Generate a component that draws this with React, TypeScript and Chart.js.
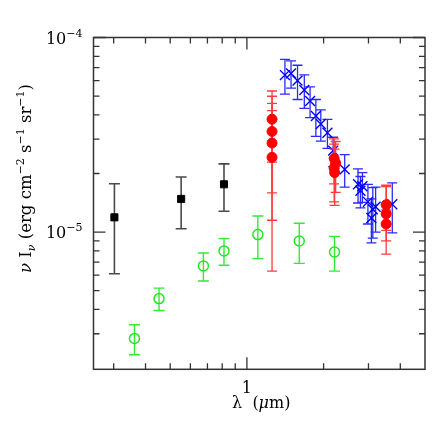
import { useEffect, useRef } from "react";
import { Chart, registerables } from "chart.js";

Chart.register(...registerables);

// ---- data (wavelength in micron, nu I_nu in erg cm^-2 s^-1 sr^-1) ----
const blackX = [0.302, 0.552, 0.813];
const blackY = [1.19e-5, 1.48e-5, 1.76e-5];
const blackErr = [0.58e-5, 0.44e-5, 0.48e-5];

const greenX = [0.362, 0.452, 0.675, 0.813, 1.104, 1.605, 2.207];
const greenY = [2.84e-6, 4.55e-6, 6.7e-6, 8.0e-6, 9.7e-6, 9.0e-6, 7.9e-6];
const greenErr = [0.5e-6, 0.6e-6, 1.1e-6, 1.25e-6, 2.4e-6, 2.1e-6, 1.6e-6];

const redX = [1.255, 1.255, 1.255, 1.255, 2.2, 2.23, 2.2, 2.21, 3.52, 3.52, 3.52];
const redY = [3.8e-5, 3.29e-5, 2.87e-5, 2.42e-5, 2.39e-5, 2.26e-5, 2.13e-5, 2.02e-5, 1.38e-5, 1.24e-5, 1.1e-5];
const redErr = [1.51e-5, 1.7e-5, 1.72e-5, 1.79e-5, 0.62e-5, 0.66e-5, 0.7e-5, 0.65e-5, 0.36e-5, 0.47e-5, 0.2e-5];

const blueX = [1.41, 1.49, 1.58, 1.68, 1.77, 1.865, 1.95, 2.07, 2.18, 2.42, 2.73, 2.84, 2.79, 2.985, 3.12, 3.2, 3.08, 3.72];
const blueY = [6.41e-5, 6.54e-5, 6.0e-5, 5.37e-5, 4.72e-5, 3.95e-5, 3.59e-5, 3.24e-5, 2.62e-5, 2.1e-5, 1.76e-5, 1.72e-5, 1.63e-5, 1.43e-5, 1.31e-5, 1.35e-5, 1.18e-5, 1.39e-5];
const blueErr = [1.3e-5, 1.05e-5, 1.2e-5, 1.05e-5, 0.85e-5, 0.85e-5, 0.66e-5, 0.55e-5, 0.45e-5, 0.4e-5, 0.35e-5, 0.3e-5, 0.3e-5, 0.33e-5, 0.38e-5, 0.35e-5, 0.3e-5, 0.4e-5];

// ---- axes ----
const X_MIN = 0.25;
const X_MAX = 5;
const Y_MIN = 1.97e-6;
const Y_MAX = 1e-4;
const xMajorTicks = [1];
const xMinorTicks = [0.3, 0.4, 0.5, 0.6, 0.7, 0.8, 0.9, 2, 3, 4];
const yMajorTicks = [1e-5, 1e-4];
const yMinorTicks = [3e-6, 4e-6, 5e-6, 6e-6, 7e-6, 8e-6, 9e-6, 2e-5, 3e-5, 4e-5, 5e-5, 6e-5, 7e-5, 8e-5, 9e-5];
const xTickLabels = [{ v: 1, t: "1" }];
const yTickLabels = [
  { v: 1e-4, base: "10", exp: "\u22124" },
  { v: 1e-5, base: "10", exp: "\u22125" },
];

const FONT = "'DejaVu Serif', serif";

type Seg = { t: string; f: string; dy: number };

function richWidth(ctx: CanvasRenderingContext2D, segs: Seg[]) {
  let w = 0;
  for (const s of segs) {
    ctx.font = s.f;
    w += ctx.measureText(s.t).width;
  }
  return w;
}

function drawRich(ctx: CanvasRenderingContext2D, segs: Seg[], x: number, y: number, align: string) {
  const w = richWidth(ctx, segs);
  let cx = align === "left" ? x : align === "center" ? x - w / 2 : x - w;
  ctx.textAlign = "left";
  ctx.textBaseline = "alphabetic";
  for (const s of segs) {
    ctx.font = s.f;
    ctx.fillText(s.t, cx, y + s.dy);
    cx += ctx.measureText(s.t).width;
  }
}

const errorBarPlugin = {
  id: "errorBars",
  beforeDatasetDraw(chart: any, args: any) {
    const ds = chart.data.datasets[args.index];
    const errs: number[] | undefined = ds.errors;
    if (!errs) return;
    const ctx: CanvasRenderingContext2D = chart.ctx;
    const xs = chart.scales.x;
    const ys = chart.scales.y;
    const ca = chart.chartArea;
    ctx.save();
    ctx.beginPath();
    ctx.rect(ca.left, ca.top, ca.right - ca.left, ca.bottom - ca.top);
    ctx.clip();
    ctx.strokeStyle = ds.errColor;
    ctx.lineWidth = ds.errWidth;
    ds.data.forEach((p: any, i: number) => {
      const px = xs.getPixelForValue(p.x);
      const top = ys.getPixelForValue(p.y + errs[i]);
      const lo = p.y - errs[i];
      const bot = lo > 0 ? ys.getPixelForValue(lo) : ca.bottom + 5;
      const cw = ds.capHalf;
      ctx.beginPath();
      ctx.moveTo(px, top);
      ctx.lineTo(px, bot);
      ctx.moveTo(px - cw, top);
      ctx.lineTo(px + cw, top);
      ctx.moveTo(px - cw, bot);
      ctx.lineTo(px + cw, bot);
      ctx.stroke();
    });
    ctx.restore();
  },
};

const framePlugin = {
  id: "frame",
  afterDraw(chart: any) {
    const ctx: CanvasRenderingContext2D = chart.ctx;
    const ca = chart.chartArea;
    const xs = chart.scales.x;
    const ys = chart.scales.y;
    ctx.save();
    ctx.strokeStyle = "#333";
    ctx.lineWidth = 1.5;
    ctx.strokeRect(ca.left, ca.top, ca.right - ca.left, ca.bottom - ca.top);
    ctx.lineWidth = 1.3;
    const xt = (v: number, L: number) => {
      const p = xs.getPixelForValue(v);
      ctx.beginPath();
      ctx.moveTo(p, ca.bottom);
      ctx.lineTo(p, ca.bottom - L);
      ctx.moveTo(p, ca.top);
      ctx.lineTo(p, ca.top + L);
      ctx.stroke();
    };
    const yt = (v: number, L: number) => {
      const p = ys.getPixelForValue(v);
      ctx.beginPath();
      ctx.moveTo(ca.left, p);
      ctx.lineTo(ca.left + L, p);
      ctx.moveTo(ca.right, p);
      ctx.lineTo(ca.right - L, p);
      ctx.stroke();
    };
    xMajorTicks.forEach((v) => xt(v, 12));
    xMinorTicks.forEach((v) => xt(v, 6));
    yMajorTicks.forEach((v) => yt(v, 12));
    yMinorTicks.forEach((v) => yt(v, 6));

    ctx.fillStyle = "#000";
    // x tick labels
    xTickLabels.forEach((l) => {
      const p = xs.getPixelForValue(l.v);
      drawRich(ctx, [{ t: l.t, f: `16px ${FONT}`, dy: 0 }], p, ca.bottom + 24, "center");
    });
    // y tick labels
    yTickLabels.forEach((l) => {
      const p = ys.getPixelForValue(l.v);
      drawRich(
        ctx,
        [
          { t: l.base, f: `16px ${FONT}`, dy: 0 },
          { t: l.exp, f: `11px ${FONT}`, dy: -7 },
        ],
        ca.left - 11,
        p + 6,
        "right"
      );
    });
    // x title
    drawRich(
      ctx,
      [
        { t: "\u03bb", f: `16px ${FONT}`, dy: 0 },
        { t: "  (", f: `16px ${FONT}`, dy: 0 },
        { t: "\u03bc", f: `italic 16px ${FONT}`, dy: 0 },
        { t: "m)", f: `16px ${FONT}`, dy: 0 },
      ],
      (ca.left + ca.right) / 2 + 2,
      ca.bottom + 39,
      "center"
    );
    // y title
    const cy = ca.top + 0.425 * (ca.bottom - ca.top);
    ctx.translate(31, cy);
    ctx.rotate(-Math.PI / 2);
    const big = `16.5px ${FONT}`;
    const bigI = `italic 16.5px ${FONT}`;
    const small = `11px ${FONT}`;
    const smallI = `italic 11px ${FONT}`;
    drawRich(
      ctx,
      [
        { t: "\u03bd", f: bigI, dy: 0 },
        { t: " I", f: big, dy: 0 },
        { t: "\u03bd", f: smallI, dy: 4 },
        { t: " (erg cm", f: big, dy: 0 },
        { t: "\u22122", f: small, dy: -7 },
        { t: " s", f: big, dy: 0 },
        { t: "\u22121", f: small, dy: -7 },
        { t: " sr", f: big, dy: 0 },
        { t: "\u22121", f: small, dy: -7 },
        { t: ")", f: big, dy: 0 },
      ],
      0,
      0,
      "center"
    );
    ctx.restore();
  },
};

const toPts = (xs: number[], ys: number[]) => xs.map((x, i) => ({ x, y: ys[i] }));

export default function App() {
  const ref = useRef<HTMLCanvasElement | null>(null);
  useEffect(() => {
    if (!ref.current) return;
    const chart = new Chart(ref.current, {
      type: "scatter",
      data: {
        datasets: [
          {
            label: "black",
            data: toPts(blackX, blackY),
            pointStyle: "rect",
            pointRadius: 5,
            backgroundColor: "#000",
            borderColor: "#000",
            borderWidth: 1,
            errors: blackErr,
            errColor: "#4a4a4a",
            errWidth: 1.6,
            capHalf: 5.5,
          } as any,
          {
            label: "green",
            data: toPts(greenX, greenY),
            pointStyle: "circle",
            pointRadius: 5,
            backgroundColor: "rgba(0,0,0,0)",
            borderColor: "#22e822",
            borderWidth: 1.5,
            errors: greenErr,
            errColor: "#33ea33",
            errWidth: 1.4,
            capHalf: 5.5,
          } as any,
          {
            label: "red",
            data: toPts(redX, redY),
            pointStyle: "circle",
            pointRadius: 5,
            backgroundColor: "#ff0000",
            borderColor: "#ff0000",
            borderWidth: 1,
            errors: redErr,
            errColor: "#ff3a3a",
            errWidth: 1.3,
            capHalf: 5,
          } as any,
          {
            label: "blue",
            data: toPts(blueX, blueY),
            pointStyle: "crossRot",
            pointRadius: 7,
            backgroundColor: "#0000ff",
            borderColor: "#0000ff",
            borderWidth: 1.4,
            errors: blueErr,
            errColor: "#2a2aff",
            errWidth: 1.3,
            capHalf: 5,
          } as any,
        ],
      },
      options: {
        responsive: false,
        animation: false,
        devicePixelRatio: 1,
        layout: { padding: { left: 0, right: 11, top: 37.5, bottom: 0 } },
        plugins: { legend: { display: false }, tooltip: { enabled: false } },
        scales: {
          x: {
            type: "logarithmic",
            min: X_MIN,
            max: X_MAX,
            ticks: { display: false },
            grid: { display: false },
            border: { display: false },
            afterFit: (s: any) => {
              s.height = 66.7;
            },
          },
          y: {
            type: "logarithmic",
            min: Y_MIN,
            max: Y_MAX,
            ticks: { display: false },
            grid: { display: false },
            border: { display: false },
            afterFit: (s: any) => {
              s.width = 93.5;
            },
          },
        },
      } as any,
      plugins: [errorBarPlugin, framePlugin],
    });
    return () => chart.destroy();
  }, []);
  return (
    <div style={{ position: "fixed", left: 0, top: 0, width: 436, height: 436, background: "#fff" }}>
      <canvas ref={ref} width={436} height={436} style={{ display: "block" }} />
    </div>
  );
}
